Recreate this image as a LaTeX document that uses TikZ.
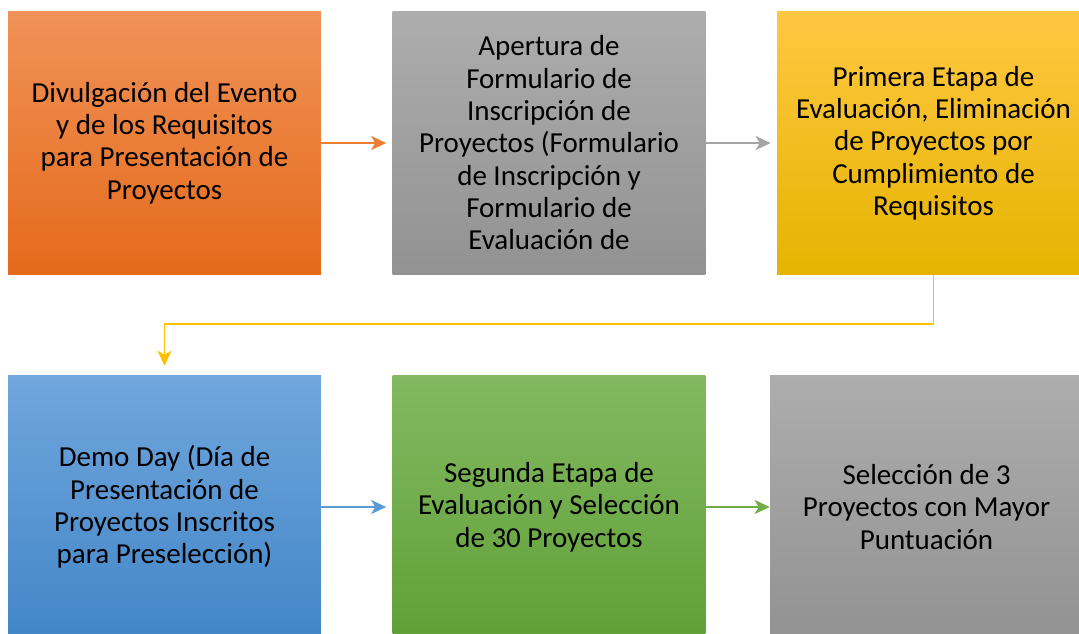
\documentclass[tikz,border=0pt]{standalone}
\usepackage{fontspec}
\setmainfont{Carlito}
\usetikzlibrary{arrows.meta}

\definecolor{orangeTop}{RGB}{240,146,88}
\definecolor{orangeBot}{RGB}{229,106,26}
\definecolor{greyTop}{RGB}{173,173,173}
\definecolor{greyBot}{RGB}{146,146,146}
\definecolor{goldTop}{RGB}{255,199,66}
\definecolor{goldBot}{RGB}{229,180,0}
\definecolor{blueTop}{RGB}{112,166,220}
\definecolor{blueBot}{RGB}{66,134,200}
\definecolor{greenTop}{RGB}{130,185,98}
\definecolor{greenBot}{RGB}{97,160,55}
\definecolor{orangeLine}{RGB}{237,125,49}
\definecolor{greyLine}{RGB}{165,165,165}
\definecolor{goldLine}{RGB}{255,192,0}
\definecolor{blueLine}{RGB}{91,155,213}
\definecolor{greenLine}{RGB}{112,173,71}

\tikzset{
  stepbox/.style={minimum width=6.26cm, minimum height=5.28cm, inner sep=0pt,
    align=center, font=\fontsize{16.5}{18.4}\selectfont},
  flow/.style={line width=1.1pt,
    -{Stealth[length=0.3cm, width=0.28cm, inset=0.08cm]}, shorten >=0.12cm}
}

\begin{document}
\begin{tikzpicture}[x=0.02cm, y=-0.02cm]
\clip (0,0) rectangle (1079,633);

% first row
\node[stepbox, top color=orangeTop, bottom color=orangeBot] (divulga) at (164.5,143)
  {Divulgación del Evento\\y de los Requisitos\\para Presentación de\\Proyectos};
\node[stepbox, top color=greyTop, bottom color=greyBot] (apertura) at (549,143)
  {Apertura de\\Formulario de\\Inscripción de\\Proyectos (Formulario\\de Inscripción y\\Formulario de\\Evaluación de};
\node[stepbox, top color=goldTop, bottom color=goldBot] (primera) at (933.5,143)
  {Primera Etapa de\\Evaluación, Eliminación\\de Proyectos por\\Cumplimiento de\\Requisitos};

% second row
\node[stepbox, top color=blueTop, bottom color=blueBot] (demo) at (164.5,507)
  {Demo Day (Día de\\Presentación de\\Proyectos Inscritos\\para Preselección)};
\node[stepbox, top color=greenTop, bottom color=greenBot] (segunda) at (549,507)
  {Segunda Etapa de\\Evaluación y Selección\\de 30 Proyectos};
\node[stepbox, top color=greyTop, bottom color=greyBot] (seleccion) at (926.5,507)
  {Selección de 3\\Proyectos con Mayor\\Puntuación};

% connectors
\draw[flow, orangeLine] (divulga) -- (apertura);
\draw[flow, greyLine] (apertura) -- (apertura -| primera.west);
\draw[flow, goldLine, shorten >=0.18cm] (primera.south) -- ++(0,49) -| (demo.north);
\draw[flow, blueLine] (demo) -- (segunda);
\draw[flow, greenLine, shorten >=0pt] (segunda) -- (seleccion);
\end{tikzpicture}
\end{document}
